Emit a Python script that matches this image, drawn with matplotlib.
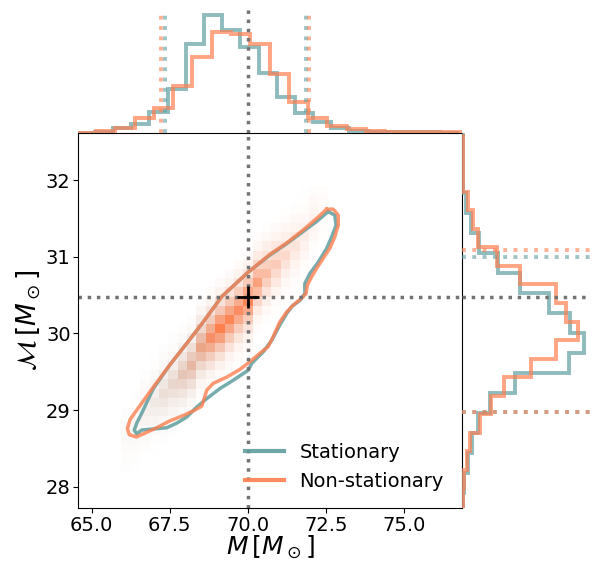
import numpy as np
import matplotlib
matplotlib.use('Agg')
import matplotlib.pyplot as plt
from matplotlib.colors import LinearSegmentedColormap

# injected values
m_true = 70.0
mc_true = 30.48

# 1d marginals (arbitrary height units)
m_edges_stat = np.linspace(64.52, 76.74, 22)
m_hist_stat = [0, 0.5, 5, 9, 21, 44, 89, 118, 103, 86, 60, 36, 20, 11, 5, 2, 1, 0.5, 0.3, 0.3, 0]
m_edges_nons = np.linspace(64.52, 77.48, 22)
m_hist_nons = [0, 1.5, 5, 15, 25, 47, 76, 101, 99, 89, 59, 31, 15, 7, 4, 1.5, 1, 0.5, 0.5, 0.3, 0.2]

mc_edges_stat = np.linspace(27.66, 32.61, 20)
mc_hist_stat = [0.5, 2, 5.3, 9.3, 16, 27.7, 53, 107, 121.7, 108, 87, 57.7, 36, 16.7, 8.7, 3.3, 1, 0.7, 0.3]
mc_edges_nons = np.linspace(27.74, 32.57, 21)
mc_hist_nons = [0.5, 1.7, 4.3, 7.7, 17.7, 29, 42, 69, 94, 116, 103.7, 94, 58, 35, 16, 11, 5.3, 0.7, 0.5, 0.3]

# 5% / 95% quantiles
m_q_stat = [67.34, 71.87]
m_q_nons = [67.21, 71.94]
mc_q_stat = [28.97, 31.00]
mc_q_nons = [28.97, 31.09]

# 90% contours
cont_stat_m = [72.57, 72.78, 72.82, 72.68, 72.52, 72.25, 71.98, 71.82, 71.82, 71.66, 71.40, 71.24,
               71.02, 70.76, 70.49, 70.12, 70.01, 69.53, 69.10, 68.68, 68.36, 68.04, 67.72, 67.40,
               66.87, 66.60, 66.44, 66.36, 66.44, 66.60, 66.97, 67.50, 68.04, 68.57, 69.16, 70.01,
               70.70, 71.24, 71.77, 72.20, 72.57]
cont_stat_mc = [31.59, 31.54, 31.41, 31.26, 31.11, 30.93, 30.78, 30.65, 30.52, 30.43, 30.35, 30.26,
                30.11, 29.91, 29.76, 29.61, 29.52, 29.39, 29.28, 29.15, 29.04, 28.91, 28.83, 28.77,
                28.75, 28.74, 28.69, 28.74, 28.83, 28.96, 29.28, 29.59, 29.87, 30.15, 30.48, 30.80,
                31.02, 31.17, 31.33, 31.46, 31.59]
cont_nons_m = [72.52, 72.73, 72.89, 72.89, 72.78, 72.62, 72.41, 72.20, 72.04, 71.90, 71.86, 71.72,
               71.45, 71.24, 71.02, 70.81, 70.65, 70.38, 70.06, 69.74, 69.32, 68.89, 68.68, 68.60,
               68.52, 68.25, 67.93, 67.50, 67.08, 66.65, 66.42, 66.20, 66.14, 66.23, 66.44, 66.97,
               67.50, 68.04, 68.57, 69.16, 70.01, 70.70, 71.24, 71.77, 72.20, 72.52]
cont_nons_mc = [31.62, 31.62, 31.54, 31.41, 31.26, 31.11, 30.98, 30.85, 30.74, 30.63, 30.52, 30.46,
                30.37, 30.28, 30.15, 29.96, 29.83, 29.74, 29.63, 29.53, 29.43, 29.35, 29.26, 29.15,
                29.05, 28.99, 28.93, 28.86, 28.77, 28.69, 28.65, 28.68, 28.76, 28.88, 29.00, 29.30,
                29.59, 29.87, 30.15, 30.48, 30.80, 31.03, 31.18, 31.35, 31.50, 31.62]

# 2d density, read along the ridge of the band
ridge_m = [66.1, 66.4, 66.7, 67.0, 67.3, 67.6, 67.9, 68.2, 68.5, 68.8, 69.1,
           69.4, 69.7, 70.0, 70.3, 70.6, 70.9, 71.2, 71.5, 71.8, 72.1, 72.4]
ridge_mc = [28.65, 28.79, 28.93, 29.07, 29.21, 29.35, 29.49, 29.63, 29.77, 29.91, 30.05,
            30.19, 30.33, 30.47, 30.61, 30.75, 30.89, 31.03, 31.17, 31.31, 31.45, 31.59]
ridge_nons = [0.2, 0.4, 0.7, 1, 1.5, 2, 3, 4, 5.5, 7.5, 9, 8.5, 8, 8.5, 6.5, 4.5, 3.5, 2.5, 1.8, 1.2, 0.8, 0.4]
ridge_stat = [0.3, 0.5, 0.8, 1.2, 1.8, 2.3, 3, 3.5, 4, 3.5, 3, 2.5, 2, 1.5, 1, 0.8, 0.5, 0.3, 0.2, 0.1, 0.1, 0]
cross_profile = [1, 0.7, 0.4, 0.2, 0.08, 0.03]

teal = 'cadetblue'
orange = 'coral'
gray = '0.45'

grid_m = np.arange(65.95, 72.56, 0.3)
grid_mc = np.arange(28.2, 32.0, 0.12)


def density(peaks):
    z = np.zeros((len(grid_mc) - 1, len(grid_m) - 1))
    for m, mc, p in zip(ridge_m, ridge_mc, peaks):
        i = np.searchsorted(grid_m, m) - 1
        j = np.searchsorted(grid_mc, mc) - 1
        for k, f in enumerate(cross_profile):
            for jj in {j - k, j + k}:
                if 0 <= jj < z.shape[0] and 0 <= i < z.shape[1]:
                    z[jj, i] += p * f
    return z


fig = plt.figure(figsize=(5.92, 5.63), dpi=100)
ax = fig.add_axes([0.1323, 0.0972, 0.6486, 0.6671])
axt = fig.add_axes([0.1323, 0.7643, 0.6486, 0.2357], sharex=ax)
axr = fig.add_axes([0.7809, 0.0972, 0.2191, 0.6671], sharey=ax)

cm_t = LinearSegmentedColormap.from_list('t', [(0.37, 0.62, 0.63, 0), (0.37, 0.62, 0.63, 0.7)])
cm_o = LinearSegmentedColormap.from_list('o', [(1, 0.5, 0.31, 0), (1, 0.5, 0.31, 1)])
ax.pcolormesh(grid_m, grid_mc, density(ridge_stat), cmap=cm_t, vmin=0, vmax=9)
ax.pcolormesh(grid_m, grid_mc, density(ridge_nons), cmap=cm_o, vmin=0, vmax=9)

ax.plot(cont_stat_m, cont_stat_mc, color=teal, lw=2.5, alpha=0.85, label='Stationary')
ax.plot(cont_nons_m, cont_nons_mc, color=orange, lw=2.5, alpha=0.8, label='Non-stationary')
ax.axvline(m_true, color=gray, ls=':', lw=2.5)
ax.axhline(mc_true, color=gray, ls=':', lw=2.5)
ax.plot(m_true, mc_true, '+', color='k', ms=16, mew=2)

ax.set_xticks([65, 67.5, 70, 72.5, 75])
ax.set_xticklabels(['65.0', '67.5', '70.0', '72.5', '75.0'])
ax.set_yticks([28, 29, 30, 31, 32])
ax.tick_params(labelsize=14, pad=2)
ax.set_xlabel(r'$M\,[M_\odot]$', fontsize=18, labelpad=-1)
ax.set_ylabel(r'$\mathcal{M}\,[M_\odot]$', fontsize=19, labelpad=2)
leg = ax.legend(loc='lower right', frameon=False, fontsize=14, handlelength=2.0,
                borderaxespad=0.2, bbox_to_anchor=(0.982, 0.016))
for l in leg.get_lines():
    l.set_linewidth(3)
    l.set_alpha(0.9)

# top marginal
axt.stairs(m_hist_stat, m_edges_stat, color=teal, lw=2.8, alpha=0.7)
axt.stairs(m_hist_nons, m_edges_nons, color=orange, lw=2.8, alpha=0.7)
for q in m_q_stat:
    axt.vlines(q, 0, 118, color=teal, ls=':', lw=2.8, alpha=0.6)
for q in m_q_nons:
    axt.vlines(q, 0, 118, color=orange, ls=':', lw=2.8, alpha=0.6)
axt.vlines(m_true, 0, 123, color=gray, ls=':', lw=2.5)
axt.set_ylim(0, 132.7)
axt.axis('off')

# right marginal
axr.stairs(mc_hist_stat, mc_edges_stat, color=teal, lw=2.8, alpha=0.7, orientation='horizontal')
axr.stairs(mc_hist_nons, mc_edges_nons, color=orange, lw=2.8, alpha=0.7, orientation='horizontal')
for q in mc_q_stat:
    axr.hlines(q, 0, 128, color=teal, ls=':', lw=2.8, alpha=0.6)
for q in mc_q_nons:
    axr.hlines(q, 0, 128, color=orange, ls=':', lw=2.8, alpha=0.6)
axr.hlines(mc_true, 0, 128, color=gray, ls=':', lw=2.5)
axr.set_xlim(0, 129.7)
axr.axis('off')

ax.set_xlim(64.57, 76.86)
ax.set_ylim(27.72, 32.617)

fig.savefig('out.png', dpi=100)
